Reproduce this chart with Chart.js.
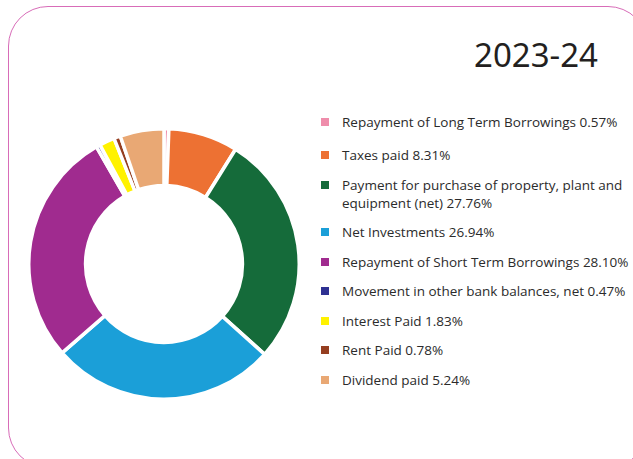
<!DOCTYPE html>
<html lang="en-US">

<head>
    <meta charset="UTF-8">
    <title>2023-24</title>
    <style>
        html, body {
            margin: 0;
            padding: 0;
            width: 633px;
            height: 459px;
            overflow: hidden;
            background: #ffffff;
            font-family: "Open Sans", "Noto Sans", sans-serif;
        }
        .frame {
            position: absolute;
            left: 8px;
            top: 6px;
            width: 640px;
            height: 462px;
            border: 1.5px solid #d86cb8;
            border-radius: 40px;
            box-sizing: border-box;
        }
        h1 {
            position: absolute;
            right: 35px;
            top: 32px;
            margin: 0;
            font-family: "Noto Sans", sans-serif;
            font-weight: 400;
            font-size: 33px;
            color: #231f20;
        }
        .donut {
            position: absolute;
            left: 26px;
            top: 127px;
            width: 276px;
            height: 274px;
        }
        #legend {
            position: absolute;
            left: 320px;
            top: 113px;
            width: 312px;
            margin: 0;
            padding: 0;
            list-style: none;
        }
        #legend li {
            position: relative;
            padding-left: 22px;
            margin-bottom: 11.5px;
            font-size: 13.5px;
            line-height: 18px;
            color: #2b2b2b;
        }
        #legend li:first-child {
            margin-bottom: 15px;
        }
        #legend li span {
            position: absolute;
            left: 1px;
            top: 5px;
            width: 8px;
            height: 8px;
        }
    </style>
</head>

<body>
    <div class="frame"></div>
    <h1>2023-24</h1>
    <div class="donut">
        <canvas id="outflows"></canvas>
    </div>
    <ul id="legend"></ul>

    <script src="https://cdn.jsdelivr.net/npm/chart.js"></script>
    <script>
        // cash outflow split, in percent
        const labels = [
            'Repayment of Long Term Borrowings',
            'Taxes paid',
            'Payment for purchase of property, plant and equipment (net)',
            'Net Investments',
            'Repayment of Short Term Borrowings',
            'Movement in other bank balances, net',
            'Interest Paid',
            'Rent Paid',
            'Dividend paid'
        ]
        const shares = [0.57, 8.31, 27.76, 26.94, 28.10, 0.47, 1.83, 0.78, 5.24]
        const colors = ['#ef8dab', '#ed7133', '#156b3a', '#1b9fd8', '#a02b8f', '#2e3192', '#fff200', '#953e20', '#e9a874']

        // legend on the right, one row per slice
        const legend = document.getElementById('legend')
        labels.forEach((label, i) => {
            let li = document.createElement('li')
            let box = document.createElement('span')
            box.style.background = colors[i]
            li.appendChild(box)
            li.appendChild(document.createTextNode(label + ' ' + shares[i].toFixed(2) + '%'))
            legend.appendChild(li)
        })

        const ctx = document.getElementById('outflows').getContext('2d')
        new Chart(ctx, {
            type: 'doughnut',
            data: {
                labels: labels,
                datasets: [{
                    data: shares,
                    backgroundColor: colors,
                    borderColor: '#ffffff',
                    borderWidth: 3.5,
                    hoverOffset: 0
                }]
            },
            options: {
                responsive: true,
                maintainAspectRatio: false,
                animation: false,
                cutout: '58%',
                plugins: {
                    legend: { display: false },
                    tooltip: { enabled: false }
                }
            }
        })
    </script>
</body>

</html>
